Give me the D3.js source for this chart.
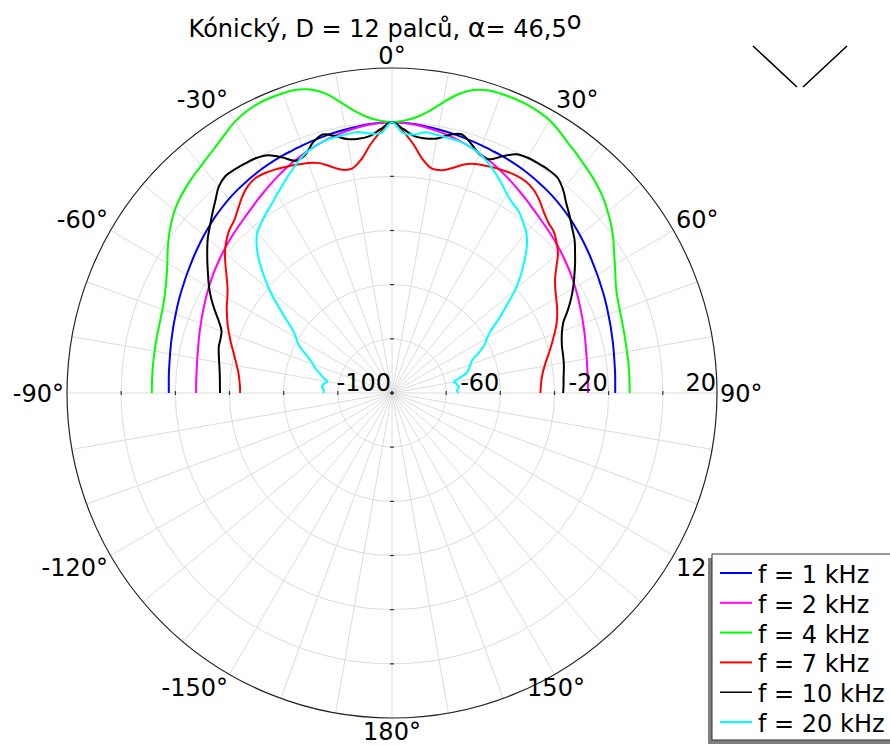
<!DOCTYPE html>
<html>
<head>
<meta charset="utf-8">
<script src="https://cdn.jsdelivr.net/npm/d3@7"></script>
<style>
  body { margin: 0; background: #fff; }
  svg { display: block; font-family: "DejaVu Sans", sans-serif; }
</style>
</head>
<body>
<div id="plot"></div>
<script>
// Sample angles in degrees, counted outward from 0° on each side
const angles = [0, 2.5, 5, 7.5, 10, 12.5, 15, 17.5, 20, 22.5, 25, 27.5, 30, 32.5, 35, 37.5, 40, 42.5,
  45, 47.5, 50, 52.5, 55, 57.5, 60, 62.5, 65, 67.5, 70, 72.5, 75, 77.5, 80, 82.5, 85, 87.5, 90];

// Levels in dB, right side (0..90°) and left side (0..-90°)
const blueR = [0, -0.1, -0.4, -0.8, -1.2, -1.6, -2.0, -2.4, -2.8, -3.2, -3.5, -3.9, -4.3, -4.8, -5.3, -5.8, -6.4, -7.1,
  -7.8, -8.6, -9.4, -10.2, -11.0, -11.8, -12.5, -13.2, -13.8, -14.4, -15.0, -15.5, -16.0, -16.4, -16.8, -17.1, -17.3, -17.5, -17.6];
const blueL = [0, -0.1, -0.4, -0.8, -1.2, -1.6, -2.0, -2.4, -2.8, -3.2, -3.5, -3.9, -4.3, -4.8, -5.3, -5.8, -6.4, -7.1,
  -7.8, -8.6, -9.4, -10.2, -11.0, -11.8, -12.5, -13.2, -13.8, -14.4, -15.0, -15.5, -16.0, -16.4, -16.8, -17.1, -17.3, -17.5, -17.6];
const magentaR = [0, -0.2, -0.6, -1.2, -1.9, -2.7, -3.6, -4.6, -5.7, -6.9, -8.1, -9.4, -10.7, -12.0, -13.2, -14.4, -15.4, -16.3,
  -17.1, -17.9, -18.7, -19.5, -20.3, -21.1, -21.9, -22.7, -23.5, -24.2, -24.9, -25.5, -26.1, -26.6, -27.0, -27.3, -27.5, -27.6, -27.7];
const magentaL = [0, -0.2, -0.6, -1.2, -1.9, -2.7, -3.6, -4.6, -5.7, -6.9, -8.1, -9.4, -10.7, -12.0, -13.2, -14.4, -15.4, -16.3,
  -17.1, -17.9, -18.7, -19.5, -20.3, -21.1, -21.9, -22.7, -23.5, -24.2, -24.9, -25.5, -26.1, -26.6, -27.0, -27.3, -27.5, -27.6, -27.7];
const greenR = [0, 0.6, 2.2, 5.0, 9.0, 13.0, 15.8, 17.2, 17.6, 17.7, 17.6, 17.1, 16.3, 14.8, 13.0, 11.6, 10.2, 9.0,
  7.6, 6.0, 4.0, 2.0, -0.3, -2.8, -5.0, -7.0, -8.7, -9.8, -10.5, -11.0, -11.4, -11.7, -11.9, -12.0, -12.1, -12.2, -12.2];
const greenL = [0, 0.6, 2.2, 5.0, 9.0, 13.2, 16.0, 17.4, 17.8, 17.9, 17.7, 17.0, 15.8, 14.0, 12.2, 10.8, 9.6, 8.6,
  7.5, 6.3, 4.8, 2.8, 0.6, -1.8, -4.2, -6.2, -7.8, -9.0, -9.8, -10.3, -10.6, -10.8, -11.0, -11.1, -11.2, -11.3, -11.3];
const redR = [0, -3.5, -8.0, -13.0, -15.8, -15.8, -14.0, -11.5, -10.0, -9.2, -8.5, -7.9, -7.5, -7.6, -8.6, -10.5, -12.8, -14.6,
  -15.6, -17.6, -20.0, -23.5, -26.5, -28.5, -30.0, -31.3, -32.7, -34.3, -36.2, -38.0, -39.7, -41.4, -42.8, -43.9, -44.6, -45.0, -45.2];
const redL = [0, -3.5, -8.0, -13.0, -15.8, -15.6, -13.5, -11.0, -9.6, -8.7, -7.8, -6.9, -6.2, -6.0, -7.0, -9.0, -11.5, -13.7,
  -15.0, -17.0, -19.5, -22.5, -25.5, -28.0, -29.8, -31.2, -32.8, -34.3, -36.0, -37.6, -39.2, -40.6, -41.8, -42.8, -43.4, -43.8, -43.9];
const blackR = [0, -2.5, -4.8, -5.2, -4.6, -2.4, -1.1, -3.3, -6.0, -6.6, -3.6, -0.6, 0.3, 0.5, 0.6, 0.3, -1.8, -4.8,
  -7.3, -9.8, -12.0, -14.8, -17.5, -20.2, -22.8, -25.6, -28.5, -31.5, -33.2, -34.3, -35.0, -35.3, -35.6, -36.0, -36.4, -36.6, -36.8];
const blackL = [0, -2.5, -4.8, -5.3, -4.8, -2.8, -1.2, -3.0, -6.4, -7.2, -4.0, -1.0, 0.2, 0.6, 0.9, 1.0, -0.5, -3.5,
  -6.2, -8.8, -11.2, -14.0, -16.8, -19.5, -22.0, -24.8, -27.8, -30.8, -33.0, -33.6, -33.8, -34.5, -35.2, -35.8, -36.2, -36.4, -36.5];
const cyanR = [0, -4.0, -4.2, -2.9, -3.3, -3.6, -3.8, -4.6, -5.8, -7.8, -10.1, -12.6, -15.2, -17.0, -18.3, -20.5, -22.8, -26.3,
  -30.8, -35.5, -40.5, -46.5, -51.5, -56.5, -59.5, -61.5, -64.5, -67.8, -69.2, -70.2, -71.5, -74.5, -76.8, -75.8, -75.2, -76.0, -75.5];
const cyanL = [0, -4.0, -3.8, -2.8, -3.0, -3.3, -3.6, -4.6, -6.0, -8.2, -10.6, -13.0, -15.2, -17.3, -19.0, -20.8, -22.6, -26.0,
  -30.5, -35.8, -41.0, -46.8, -52.0, -56.5, -59.0, -61.0, -64.0, -67.0, -69.0, -70.5, -72.5, -74.0, -75.8, -74.5, -74.0, -74.8, -74.6];

const seriesNames = ['f = 1 kHz', 'f = 2 kHz', 'f = 4 kHz', 'f = 7 kHz', 'f = 10 kHz', 'f = 20 kHz'];
const seriesColors = ['#0000ff', '#ff00ff', '#00ff00', '#ff0000', '#000000', '#00ffff'];
const angleTicks = [0, 30, 60, 90, 120, 150, 180, -150, -120, -90, -60, -30];
const ringValues = [-80, -60, -40, -20, 0];
const radialLabels = [-100, -60, -20, 20];

let
w = 890, h = 745,
cx = 392, cy = 393, // centre of the polar plot
R = 325, // outer radius
labR = 328, // radius where angle labels are anchored
gridColor = '#dcdcdc',

rScale = d3.scaleLinear().domain([-100, 20]).range([0, R]).clamp(true),
aScale = d3.scaleLinear().domain([-180, 180]).range([-Math.PI, Math.PI]),

svg = d3.select('#plot').append('svg').attr('width', w).attr('height', h),
g = svg.append('g').attr('transform', 'translate(' + cx + ',' + cy + ')');

// Angular grid every 10 degrees
g.selectAll('line.spoke').
data(d3.range(-180, 180, 10)).
join('line').
attr('class', 'spoke').
attr('x1', 0).attr('y1', 0).
attr('x2', d => R * Math.sin(aScale(d))).
attr('y2', d => -R * Math.cos(aScale(d))).
attr('stroke', gridColor).
attr('stroke-width', 1);

// Radial grid rings
g.selectAll('circle.ring').
data(ringValues).
join('circle').
attr('class', 'ring').
attr('r', d => rScale(d)).
attr('fill', 'none').
attr('stroke', gridColor).
attr('stroke-width', 1);

// Outer border
g.append('circle').
attr('r', R).
attr('fill', 'none').
attr('stroke', '#222').
attr('stroke-width', 1.2);

// Small tick marks on the four main axes
[0, 90, 180, -90].forEach(a => {
  const th = aScale(a), s = Math.sin(th), c = -Math.cos(th);
  g.selectAll(null).
  data([-100].concat(ringValues)).
  join('line').
  attr('x1', d => rScale(d) * s - 2 * c).
  attr('y1', d => rScale(d) * c + 2 * s).
  attr('x2', d => rScale(d) * s + 2 * c).
  attr('y2', d => rScale(d) * c - 2 * s).
  attr('stroke', '#333').
  attr('stroke-width', 1.2);
});

// Curves
const line = d3.lineRadial().
angle(d => aScale(d[0])).
radius(d => rScale(d[1])).
curve(d3.curveCatmullRom);

const series = [[blueL, blueR], [magentaL, magentaR], [greenL, greenR],
  [redL, redR], [blackL, blackR], [cyanL, cyanR]].map((s, k) => {
  const left = angles.map((a, i) => [-a, s[0][i]]).reverse();
  const right = angles.slice(1).map((a, i) => [a, s[1][i + 1]]);
  return { name: seriesNames[k], color: seriesColors[k], pts: left.concat(right) };
});

g.selectAll('path.curve').
data(series).
join('path').
attr('class', 'curve').
attr('d', d => line(d.pts)).
attr('fill', 'none').
attr('stroke', d => d.color).
attr('stroke-width', 2);

// Radial labels along the 90 deg axis
g.selectAll('text.rlab').
data(radialLabels).
join('text').
attr('class', 'rlab').
attr('x', d => rScale(d) - 1).
attr('y', -2).
attr('text-anchor', 'end').
attr('font-size', 24).
text(d => d);

// Angle labels round the outside: anchored by the side of the circle they sit on
g.selectAll('text.alab').
data(angleTicks).
join('text').
attr('class', 'alab').
attr('font-size', 24).
attr('text-anchor', d => d === 0 || d === 180 || d === 150 ? 'middle' : d > 0 ? 'start' : 'end').
attr('x', d => labR * Math.sin(aScale(d))).
attr('y', d => {
  const c = Math.cos(aScale(d)), py = -labR * c;
  if (c > 0.01) return py - 1; // upper half: text sits above the point
  if (c < -0.01) return py + 18.5; // lower half: text hangs below
  return py + 8.8; // sides: centred
}).
text(d => d + '°');

// Title
const title = svg.append('text').
attr('x', 385).
attr('y', 37).
attr('text-anchor', 'middle').
attr('font-size', 24);
title.append('tspan').text('Kónický, D = 12 palců, ');
title.append('tspan').attr('font-size', 27).text('α');
title.append('tspan').text('= 46,5');
title.append('tspan').attr('dy', -8).attr('font-size', 24).text('o');

// Small V mark, top right
svg.append('path').
attr('d', 'M753,46L797,87M803,87L847,46').
attr('fill', 'none').
attr('stroke', '#000').
attr('stroke-width', 1.6);

// Legend with shadow
const legend = svg.append('g').attr('transform', 'translate(712,554)');
legend.append('rect').
attr('x', -4).attr('y', 4).
attr('width', 200).attr('height', 186).
attr('fill', '#808080');
legend.append('rect').
attr('width', 200).attr('height', 186).
attr('fill', '#fff').
attr('stroke', '#333').
attr('stroke-width', 1);

const rows = legend.selectAll('g.row').
data(series).
join('g').
attr('class', 'row').
attr('transform', (d, i) => 'translate(0,' + (19 + i * 29.8) + ')');
rows.append('line').
attr('x1', 8).attr('x2', 40).
attr('stroke', d => d.color).
attr('stroke-width', d => d.color === '#000000' ? 1.5 : 2);
rows.append('text').
attr('x', 46).attr('y', 10).
attr('font-size', 24).
text(d => d.name);
</script>
</body>
</html>
